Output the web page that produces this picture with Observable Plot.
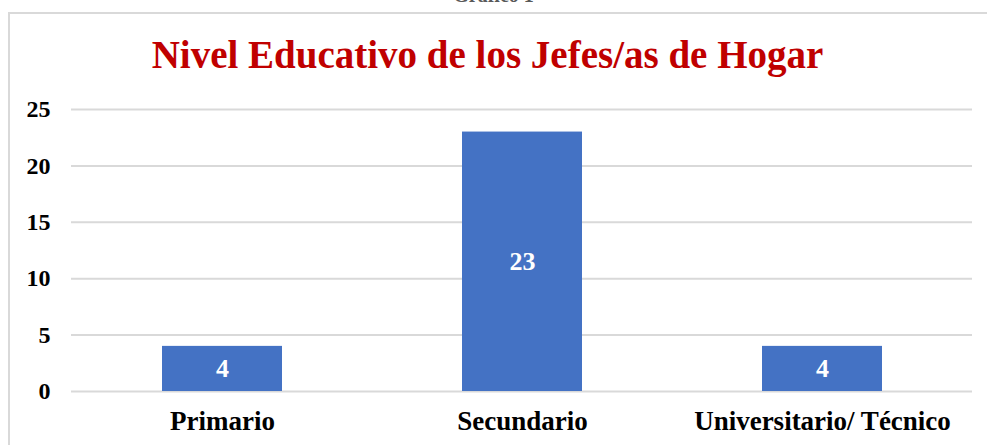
<!DOCTYPE html>
<html>
<head>
<meta charset="utf-8">
<script src="https://cdn.jsdelivr.net/npm/d3@7"></script>
<script src="https://cdn.jsdelivr.net/npm/@observablehq/plot@0.6"></script>
<style>
  html, body { margin: 0; padding: 0; background: #fff; }
  #wrap { position: relative; width: 987px; height: 445px; overflow: hidden; font-family: "Liberation Serif", "Times New Roman", serif; }
  #frame { position: absolute; left: 8px; top: 12px; width: 990px; height: 450px; border: 2px solid #d9d9d9; box-sizing: border-box; }
  #top { position: absolute; left: 0; width: 987px; text-align: center; top: -16px; font-size: 20px; font-weight: bold; color: #595959; }
  #title { position: absolute; left: 0; width: 975px; text-align: center; top: 33px; font-size: 39px; font-weight: bold; color: #c00000; line-height: 44px; }
  #chart { position: absolute; left: 0; top: 0; }
</style>
</head>
<body>
<div id="wrap">
  <div id="top">Gráfico 1</div>
  <div id="frame"></div>
  <div id="chart"></div>
  <div id="title">Nivel Educativo de los Jefes/as de Hogar</div>
</div>
<script>
const categories = ["Primario", "Secundario", "Universitario/ Técnico"];
const values = [4, 23, 4];
const yTicks = [0, 5, 10, 15, 20, 25];

const data = categories.map((c, i) => ({category: c, value: values[i]}));

const chart = Plot.plot({
  width: 987,
  height: 445,
  marginTop: 109,
  marginBottom: 54,
  marginLeft: 71,
  marginRight: 15,
  style: {background: "transparent", fontFamily: "'Liberation Serif', 'Times New Roman', serif"},
  x: {domain: categories, paddingInner: 0.6, paddingOuter: 0.3, label: null},
  y: {domain: [0, 25], label: null},
  marks: [
    Plot.gridY(yTicks, {stroke: "#d9d9d9", strokeOpacity: 1, strokeWidth: 2}),
    Plot.barY(data, {x: "category", y: "value", fill: "#4472c4"}),
    Plot.text(data, {x: "category", y: d => d.value / 2, text: d => String(d.value), fill: "#fff", fontSize: 26, fontWeight: "bold"}),
    Plot.axisY(yTicks, {tickSize: 0, tickPadding: 21, fontSize: 24, fontWeight: "bold", fill: "#000", label: null}),
    Plot.axisX({tickSize: 0, tickPadding: 19, fontSize: 27, fontWeight: "bold", fill: "#000", label: null})
  ]
});
document.getElementById("chart").appendChild(chart);
</script>
</body>
</html>
